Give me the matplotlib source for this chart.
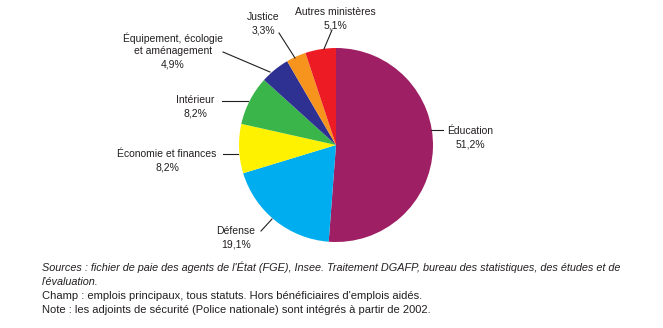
import matplotlib
matplotlib.use("Agg")
import matplotlib.pyplot as plt

categories = ["Éducation", "Défense", "Économie et finances", "Intérieur",
              "Équipement, écologie\net aménagement", "Justice", "Autres ministères"]
values = [51.2, 19.1, 8.2, 8.2, 4.9, 3.3, 5.1]
value_labels = ["51,2%", "19,1%", "8,2%", "8,2%", "4,9%", "3,3%", "5,1%"]
colors = ["#9E1F63", "#00AEEF", "#FFF200", "#39B54A", "#2E3192", "#F7941D", "#ED1C24"]

footnotes = [
    ("Sources : fichier de paie des agents de l'État (FGE), Insee. Traitement DGAFP, bureau des statistiques, des études et de", "italic"),
    ("l'évaluation.", "italic"),
    ("Champ : emplois principaux, tous statuts. Hors bénéficiaires d'emplois aidés.", "normal"),
    ("Note : les adjoints de sécurité (Police nationale) sont intégrés à partir de 2002.", "normal"),
]

plt.rcParams['font.family'] = ['Liberation Sans', 'DejaVu Sans']
W, H = 663, 328
fig = plt.figure(figsize=(W / 100, H / 100), dpi=100)
ax = fig.add_axes([0, 0, 1, 1])

def Y(y):
    return H - y

ax.pie(values, colors=colors, startangle=90, counterclock=False,
       center=(336, Y(145)), radius=97, frame=True,
       wedgeprops=dict(linewidth=0))
ax.set_xlim(0, W)
ax.set_ylim(0, H)
ax.set_aspect('equal')
ax.axis('off')

# label layout: (text center x, first line y, line start, line end)
layout = [
    (470, 131, (431, 130), (443, 130)),
    (236, 231, (272, 219), (261, 231)),
    (167, 154, (238, 154), (223, 154)),
    (195, 100, (248, 101), (222, 101)),
    (173, 38, (270, 72), (223, 52)),
    (263, 17, (295, 58), (279, 33)),
    (335, 12, (324, 49), (332, 30)),
]
tc = '#231F20'
lh = 13.2
for cat, vl, (tx, ty, p0, p1) in zip(categories, value_labels, layout):
    lines = cat.split("\n") + [vl]
    for i, ln in enumerate(lines):
        ax.text(tx, Y(ty + i * lh), ln, ha='center', va='center', fontsize=7.5, color=tc)
    ax.plot([p0[0], p1[0]], [Y(p0[1]), Y(p1[1])], color=tc, lw=0.8)

fy = [267, 282, 296, 310]
for (txt, style), y in zip(footnotes, fy):
    fs = 7.85 if style == 'italic' else 8.05
    ax.text(42, Y(y), txt, ha='left', va='center', fontsize=fs, style=style, color=tc)

fig.savefig("out.png", dpi=100)
